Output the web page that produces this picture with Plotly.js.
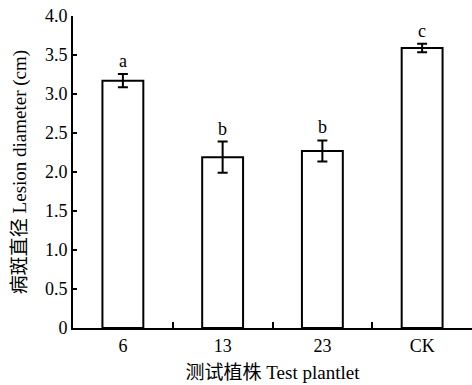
<!DOCTYPE html>
<html>
<head>
<meta charset="utf-8">
<script src="https://cdn.plot.ly/plotly-3.0.1.min.js"></script>
<style>html,body{margin:0;padding:0;background:#fff;}#chart{width:472px;height:385px;}</style>
</head>
<body>
<div id="chart"></div>
<script>
const categories = ["6", "13", "23", "CK"];
const values = [3.17, 2.19, 2.27, 3.59];
const errors = [0.085, 0.20, 0.135, 0.055];
const letters = ["a", "b", "b", "c"];
const yTickVals = [0, 0.5, 1.0, 1.5, 2.0, 2.5, 3.0, 3.5, 4.0];
const yTickText = ["0", "0.5", "1.0", "1.5", "2.0", "2.5", "3.0", "3.5", "4.0"];

const FONT = "Liberation Serif, Times New Roman, Noto Sans CJK SC, serif";

const trace = {
  type: "bar",
  x: categories,
  y: values,
  width: 0.41,
  marker: { color: "#ffffff", line: { color: "#000000", width: 2 } },
  error_y: { type: "data", array: errors, visible: true, color: "#000000", thickness: 2, width: 5 },
  hoverinfo: "none"
};

const annotations = categories.map((c, i) => ({
  xref: "x",
  yref: "y",
  x: i,
  y: values[i] + errors[i],
  text: letters[i],
  showarrow: false,
  yanchor: "bottom",
  yshift: 1,
  font: { family: FONT, size: 18, color: "#000" }
}));

const layout = {
  width: 472,
  height: 385,
  margin: { l: 73, r: 0, t: 16, b: 57 },
  paper_bgcolor: "#fff",
  plot_bgcolor: "#fff",
  showlegend: false,
  font: { family: FONT, size: 18, color: "#000" },
  xaxis: {
    type: "category",
    range: [-0.5, 3.5],
    showline: true,
    linecolor: "#000",
    linewidth: 2,
    ticks: "inside",
    tickson: "boundaries",
    ticklen: 6,
    tickwidth: 2,
    tickcolor: "#000",
    showgrid: false,
    zeroline: false,
    tickfont: { family: FONT, size: 18, color: "#000" },
    title: { text: "测试植株 Test plantlet", font: { family: FONT, size: 19, color: "#000" }, standoff: 11 }
  },
  yaxis: {
    range: [0, 4],
    tickvals: yTickVals,
    ticktext: yTickText,
    showline: true,
    linecolor: "#000",
    linewidth: 2,
    ticks: "inside",
    ticklen: 4,
    tickwidth: 2,
    tickcolor: "#000",
    showgrid: false,
    zeroline: false,
    tickfont: { family: FONT, size: 18, color: "#000" },
    title: { text: "病斑直径 Lesion diameter (cm)", font: { family: FONT, size: 19, color: "#000" }, standoff: 13 }
  },
  annotations: annotations
};

Plotly.newPlot("chart", [trace], layout, { displayModeBar: false, staticPlot: true });
</script>
</body>
</html>
